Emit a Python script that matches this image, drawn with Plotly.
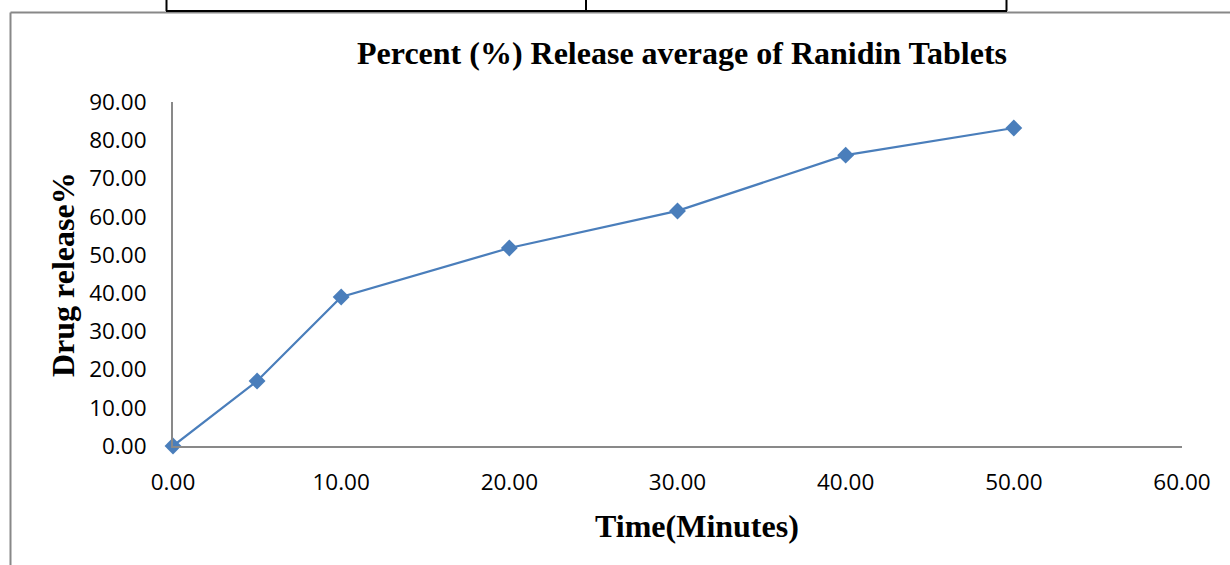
import plotly.graph_objects as go

time_min = [0, 5, 10, 20, 30, 40, 50]
drug_release = [0.0, 17.0, 39.0, 51.8, 61.5, 76.1, 83.2]
x_ticks = [0, 10, 20, 30, 40, 50, 60]
y_ticks = [0, 10, 20, 30, 40, 50, 60, 70, 80, 90]

W, H = 1230, 565
L, R, T, B = 173, 48, 102, 119
pw, ph = W - L - R, H - T - B

def px(xp):
    return (xp - L) / pw

def py(yp):
    return (H - B - yp) / ph

fig = go.Figure()
fig.add_trace(go.Scatter(
    x=time_min, y=drug_release, mode="lines+markers",
    line=dict(color="#4a7ebb", width=2.25),
    marker=dict(symbol="diamond", size=13, color="#4a7ebb"),
    cliponaxis=False, showlegend=False,
))

tickfont = dict(family="Open Sans", size=22.5, color="#000000")
serif = dict(family="Liberation Serif", size=32, color="black")
fig.update_layout(
    width=W, height=H,
    margin=dict(l=L, r=R, t=T, b=B),
    paper_bgcolor="white", plot_bgcolor="white",
    title=dict(text="<b>Percent (%) Release average of Ranidin Tablets</b>",
               font=serif,
               x=682 / W, xanchor="center", y=1 - 53 / H, yanchor="middle"),
    xaxis=dict(range=[0, 60], tickvals=x_ticks,
               ticktext=[f"{v:.2f}" for v in x_ticks],
               showgrid=False, zeroline=False, showline=True,
               linecolor="#898989", linewidth=2, ticks="", tickfont=tickfont,
               ticklabelstandoff=15),
    yaxis=dict(range=[0, 90], tickvals=y_ticks,
               ticktext=[f"{v:.2f}" for v in y_ticks],
               showgrid=False, zeroline=False, showline=True,
               linecolor="#898989", linewidth=2, ticks="", tickfont=tickfont,
               ticklabelstandoff=20),
)

fig.add_annotation(text="<b>Time(Minutes)</b>", font=serif, showarrow=False,
                   xref="paper", yref="paper", x=px(697), y=py(526),
                   xanchor="center", yanchor="middle")
fig.add_annotation(text="<b>Drug release%</b>", font=serif, showarrow=False,
                   xref="paper", yref="paper", x=px(63), y=py(275),
                   xanchor="center", yanchor="middle", textangle=-90)

shapes = []
# outer gray frame (left and top)
shapes.append(dict(type="line", xref="paper", yref="paper",
                   x0=px(10.5), x1=px(10.5), y0=py(12.5), y1=py(566),
                   line=dict(color="#888888", width=2)))
shapes.append(dict(type="line", xref="paper", yref="paper",
                   x0=px(10.5), x1=px(1231), y0=py(12.5), y1=py(12.5),
                   line=dict(color="#888888", width=2)))
# table fragment at top (black)
shapes.append(dict(type="line", xref="paper", yref="paper",
                   x0=px(166), x1=px(1007), y0=py(11), y1=py(11),
                   line=dict(color="black", width=2)))
for xv in [166.5, 586, 1006.5]:
    shapes.append(dict(type="line", xref="paper", yref="paper",
                       x0=px(xv), x1=px(xv), y0=py(-1), y1=py(11),
                       line=dict(color="black", width=2)))
fig.update_layout(shapes=shapes)

fig.write_html("out.html")
